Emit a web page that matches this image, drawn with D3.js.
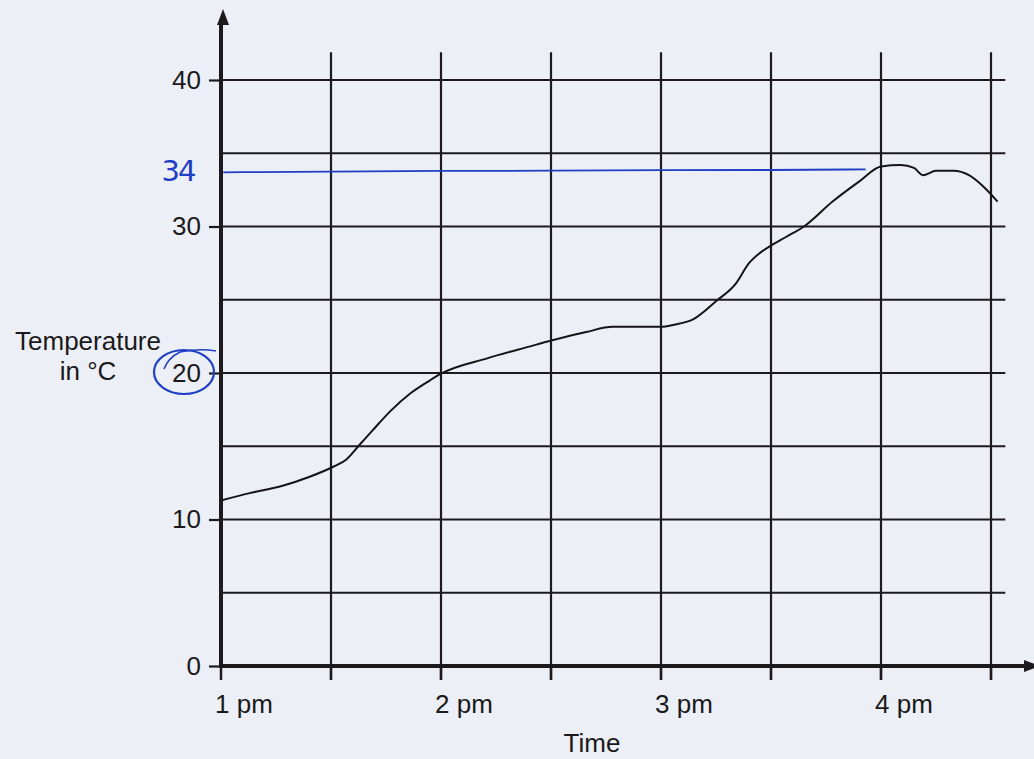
<!DOCTYPE html>
<html>
<head>
<meta charset="utf-8">
<script src="https://cdn.jsdelivr.net/npm/d3@7"></script>
<style>
    body { margin: 0; background: #edeff7; }
    svg { display: block; font-family: "Liberation Sans", Arial, sans-serif; }
</style>
</head>
<body>
<svg width="1034" height="759"></svg>
<script>
// Data (time in hours on the clock, 1 = 1 pm)
const times = [1.00, 1.13, 1.28, 1.40, 1.51, 1.57, 1.63, 1.69, 1.77, 1.86, 1.95, 2.00,
    2.21, 2.40, 2.51, 2.66, 2.78, 3.00, 3.06, 3.15, 3.25, 3.34, 3.40, 3.45, 3.50, 3.57,
    3.65, 3.78, 3.90, 4.00, 4.09, 4.15, 4.19, 4.25, 4.33, 4.40, 4.46, 4.53];
const temps = [11.3, 11.8, 12.3, 12.9, 13.6, 14.1, 15.1, 16.1, 17.4, 18.6, 19.5, 19.95,
    21.0, 21.8, 22.25, 22.8, 23.15, 23.15, 23.3, 23.7, 24.9, 26.1, 27.5, 28.2, 28.7, 29.3,
    30.0, 31.7, 33.06, 34.1, 34.2, 34.0, 33.5, 33.8, 33.8, 33.5, 32.8, 31.7];

// hand-drawn blue line at the maximum
const markTimes = [1.01, 1.5, 2.0, 2.5, 3.0, 3.5, 3.93];
const markTemps = [33.7, 33.75, 33.8, 33.8, 33.85, 33.85, 33.9];
const markLabel = "34";

const xTicks = [1, 1.5, 2, 2.5, 3, 3.5, 4, 4.5];
const xLabels = { 1: "1 pm", 2: "2 pm", 3: "3 pm", 4: "4 pm" };
const yTicks = [0, 10, 20, 30, 40];
const yGrid = [5, 10, 15, 20, 25, 30, 35, 40];

const svg = d3.select("svg");
const ink = "#1d1a1e";
const blue = "#1f3fc4";

const x = d3.scaleLinear().domain([1, 4.5]).range([221, 991]);
const y = d3.scaleLinear().domain([0, 40]).range([666, 80]);

// horizontal grid
svg.append("g").selectAll("line")
    .data(yGrid)
    .enter().append("line")
    .attr("x1", x(1)).attr("x2", x(4.565))
    .attr("y1", d => y(d)).attr("y2", d => y(d))
    .attr("stroke", ink).attr("stroke-width", 2.2);

// vertical grid
svg.append("g").selectAll("line")
    .data(xTicks.slice(1))
    .enter().append("line")
    .attr("x1", d => x(d)).attr("x2", d => x(d))
    .attr("y1", y(41.9)).attr("y2", y(0) + 14)
    .attr("stroke", ink).attr("stroke-width", 2.2);

// y axis with ticks and labels
const yAxis = svg.append("g")
    .attr("transform", `translate(${x(1)},0)`)
    .call(d3.axisLeft(y).tickValues(yTicks).tickSize(12).tickPadding(8));
yAxis.select(".domain").remove();
yAxis.selectAll("line").attr("stroke", ink).attr("stroke-width", 2.2);
yAxis.selectAll("text").attr("font-size", 26).attr("fill", "#1a1a1a")
    .attr("font-family", "Liberation Sans, Arial, sans-serif");

// x axis ticks
svg.append("g").selectAll("line")
    .data(xTicks)
    .enter().append("line")
    .attr("x1", d => x(d)).attr("x2", d => x(d))
    .attr("y1", y(0)).attr("y2", y(0) + 14)
    .attr("stroke", ink).attr("stroke-width", 2.5);

svg.append("g").selectAll("text")
    .data(xTicks.filter(d => xLabels[d]))
    .enter().append("text")
    .attr("x", d => x(d) - 6)
    .attr("y", 713)
    .attr("font-size", 26)
    .attr("fill", "#1a1a1a")
    .text(d => xLabels[d]);

// main axes lines with arrows
svg.append("line")
    .attr("x1", x(1)).attr("x2", x(1))
    .attr("y1", y(0) + 2).attr("y2", 22)
    .attr("stroke", ink).attr("stroke-width", 4);
svg.append("path")
    .attr("d", `M${x(1) + 2},9 L${x(1) - 4},25 L${x(1) + 8},25 Z`)
    .attr("fill", ink);
svg.append("line")
    .attr("x1", x(1) - 2).attr("x2", 1026)
    .attr("y1", y(0)).attr("y2", y(0))
    .attr("stroke", ink).attr("stroke-width", 4);
svg.append("path")
    .attr("d", `M1040,${y(0)} L1024,${y(0) - 6} L1024,${y(0) + 6} Z`)
    .attr("fill", ink);

// temperature curve
const line = d3.line()
    .x((d, i) => x(times[i]))
    .y(d => y(d))
    .curve(d3.curveMonotoneX);

svg.append("path")
    .datum(temps)
    .attr("d", line)
    .attr("fill", "none")
    .attr("stroke", "#151515")
    .attr("stroke-width", 2);

// blue annotation
const markLine = d3.line()
    .x((d, i) => x(markTimes[i]))
    .y(d => y(d))
    .curve(d3.curveBasis);

svg.append("path")
    .datum(markTemps)
    .attr("d", markLine)
    .attr("fill", "none")
    .attr("stroke", blue)
    .attr("stroke-width", 1.8);

svg.append("text")
    .attr("x", 178).attr("y", y(33.7) + 9)
    .attr("text-anchor", "middle")
    .attr("font-size", 29)
    .attr("font-family", "DejaVu Sans, sans-serif")
    .attr("letter-spacing", -2)
    .attr("fill", blue)
    .text(markLabel);

svg.append("ellipse")
    .attr("cx", 184).attr("cy", y(20) - 1)
    .attr("rx", 30).attr("ry", 22)
    .attr("fill", "none")
    .attr("stroke", blue)
    .attr("stroke-width", 2.2);
svg.append("path")
    .attr("d", "M164,369 Q168,358 180,352 Q200,348 216,351")
    .attr("fill", "none")
    .attr("stroke", blue)
    .attr("stroke-width", 1.6);

// axis titles
const yTitle = svg.append("text")
    .attr("text-anchor", "middle")
    .attr("font-size", 26)
    .attr("fill", "#1a1a1a");
yTitle.append("tspan").attr("x", 88).attr("y", 350).text("Temperature");
yTitle.append("tspan").attr("x", 88).attr("y", 380).text("in °C");

svg.append("text")
    .attr("x", 592).attr("y", 752)
    .attr("text-anchor", "middle")
    .attr("font-size", 26)
    .attr("fill", "#1a1a1a")
    .text("Time");
</script>
</body>
</html>
